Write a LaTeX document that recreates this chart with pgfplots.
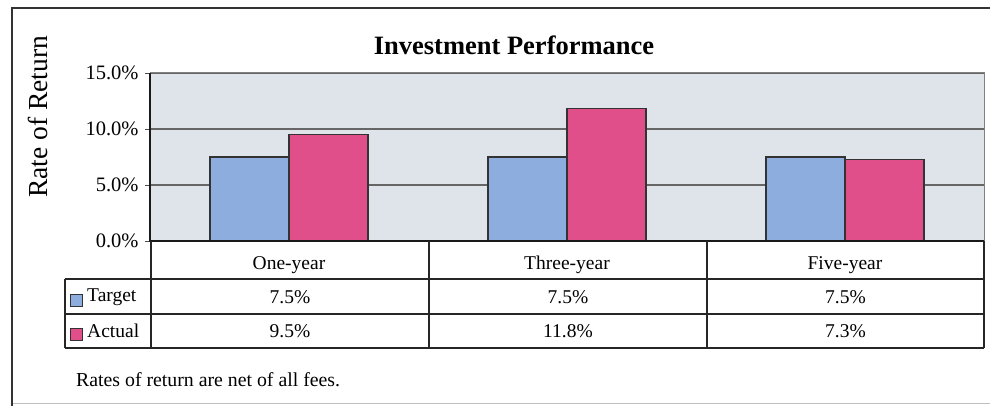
\documentclass[border=0pt]{standalone}
\usepackage{fontspec}
\setmainfont{Liberation Serif}
\usepackage{pgfplots}
\pgfplotsset{compat=1.18}
\usepackage{pgfplotstable}
\definecolor{tgt}{HTML}{8DADDE}
\definecolor{act}{HTML}{E04F8A}
\definecolor{bg}{HTML}{DFE3EA}
\pgfplotstableread{
x target actual
0 7.5 9.5
1 7.5 11.8
2 7.5 7.3
}\datatable
\newcommand\tabfont{\fontsize{19.5}{22}\selectfont}
\begin{document}
\begin{tikzpicture}
\useasboundingbox (0pt,0pt) rectangle (990pt,-406pt);
\fill[white] (0pt,0pt) rectangle (990pt,-406pt);
\begin{axis}[
  at={(150pt,-241pt)}, anchor=south west,
  scale only axis, width=834pt, height=168pt,
  ybar=0pt, bar width=79pt,
  xmin=-0.5, xmax=2.5, ymin=0, ymax=15,
  xtick={0,1,2}, xticklabels={One-year,Three-year,Five-year},
  xtick style={draw=none},
  xticklabel style={anchor=center, yshift=-19pt},
  ytick={0,5,10,15}, yticklabels={0.0\%,5.0\%,10.0\%,15.0\%},
  yticklabel style={xshift=-3pt, font=\fontsize{20.5}{22}\selectfont},
  ytick pos=left, tick align=outside, major tick length=5pt,
  ytick style={draw=black!70, line width=0.8pt},
  ymajorgrids, grid style={draw=black!60, line width=1.1pt},
  axis background/.style={fill=bg},
  axis line style={draw=black!50, line width=1pt},
  tick label style={font=\tabfont},
  clip=false,
]
\addplot[fill=tgt, draw=black!80, line width=1.1pt] table[x=x,y=target]{\datatable};
\addplot[fill=act, draw=black!80, line width=1.1pt] table[x=x,y=actual]{\datatable};
\draw[black!90, line width=1.3pt] (rel axis cs:0,1) -- (rel axis cs:0,0) -- (rel axis cs:1,0);
\end{axis}
\begin{scope}[x=1pt,y=-1pt]
  % table grid
  \draw[black!85, line width=1.4pt]
    (65,279) -- (984,279)
    (65,314) -- (984,314)
    (65,348) -- (984,348)
    (65,279) -- (65,348)
    (151,241) -- (151,348)
    (429,241) -- (429,348)
    (707,241) -- (707,348)
    (984,241) -- (984,348);
  \foreach \r/\cx in {0/290,1/568,2/845.5} {
    \pgfplotstablegetelem{\r}{target}\of\datatable
    \node[font=\tabfont] at (\cx,297) {\pgfmathprintnumber[fixed,fixed zerofill,precision=1,assume math mode=true]{\pgfplotsretval}\%};
    \pgfplotstablegetelem{\r}{actual}\of\datatable
    \node[font=\tabfont] at (\cx,331) {\pgfmathprintnumber[fixed,fixed zerofill,precision=1,assume math mode=true]{\pgfplotsretval}\%};
  }
  % legend cells
  \draw[fill=tgt, draw=black!80, line width=0.9pt] (70,294) rectangle (82,306);
  \node[font=\tabfont, anchor=west, inner sep=0pt] at (87,297) {Target};
  \draw[fill=act, draw=black!80, line width=0.9pt] (70,328) rectangle (82,340);
  \node[font=\tabfont, anchor=west, inner sep=0pt] at (87,331) {Actual};
  % titles
  \node[font=\fontsize{26.5}{30}\selectfont\bfseries] at (514,45) {Investment Performance};
  \node[font=\fontsize{27.5}{30}\selectfont, rotate=90] at (38,117) {Rate of Return};
  \node[font=\fontsize{19.8}{22}\selectfont, anchor=west, inner sep=0pt] at (76,380) {Rates of return are net of all fees.};
  % frame
  \draw[black!25, line width=1pt] (12,403) -- (990,403);
  \draw[black!80, line width=1.3pt] (12,406) -- (12,8) -- (990,8);
\end{scope}
\end{tikzpicture}
\end{document}
